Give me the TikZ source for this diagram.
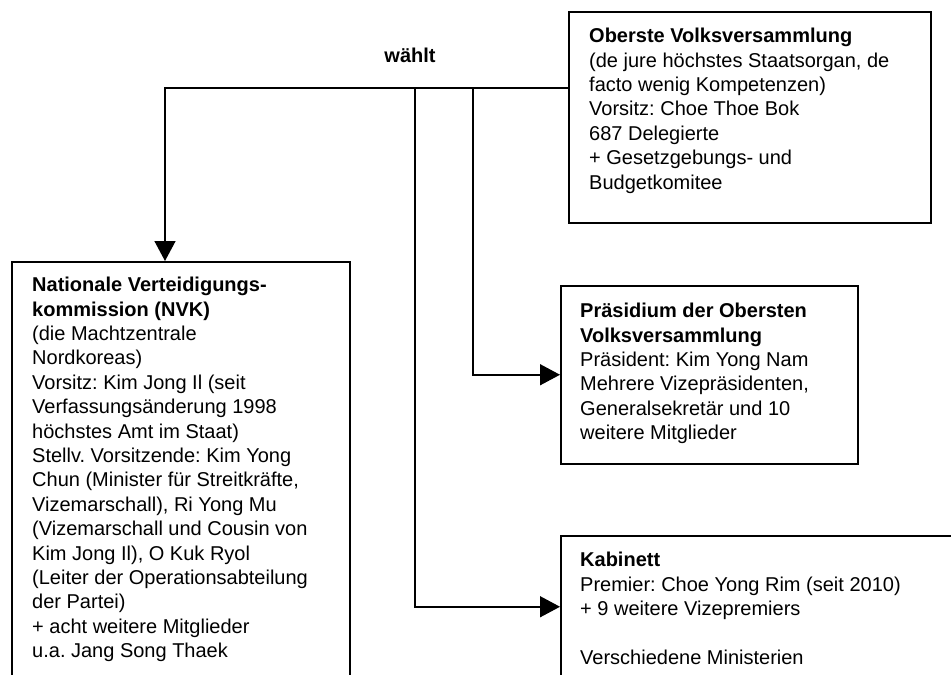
\documentclass[tikz,border=0pt]{standalone}
\usepackage{fontspec}
\setmainfont{Liberation Sans}
\usetikzlibrary{arrows.meta}
\frenchspacing
\tikzset{
  box/.style={draw=black, line width=1.5pt, inner sep=0pt, anchor=north west, fill=none},
  txt/.style={inner sep=0pt, anchor=north west, align=left, font=\fontsize{20}{24.4}\selectfont},
  conn/.style={draw=black, line width=1.5pt},
  arr/.style={conn, -{Triangle[length=20pt,width=21pt]}},
  lbl/.style={inner sep=0pt, anchor=base, font=\fontsize{20}{24.4}\selectfont\bfseries}
}
\begin{document}
\begin{tikzpicture}[x=1pt,y=-1pt]
\useasboundingbox (0,0) rectangle (951,675);
\clip (0,0) rectangle (951,675);
\fill[white] (0,0) rectangle (951,675);

% boxes
\node[box, minimum width=362pt, minimum height=211pt] (ovv) at (568,11) {};
\node[box, minimum width=338pt, minimum height=430pt] (nvk) at (11,261) {};
\node[box, minimum width=297pt, minimum height=178pt] (praes) at (560,285) {};
\node[box, minimum width=420pt, minimum height=142pt] (kab) at (560,535) {};

% texts
\node[txt] (tovv) at (589,28) {\textbf{Oberste Volksversammlung}\\
(de jure höchstes Staatsorgan, de\\
facto wenig Kompetenzen)\\
Vorsitz: Choe Thoe Bok\\
687 Delegierte\\
+ Gesetzgebungs- und\\
Budgetkomitee};

\node[txt] (tnvk) at (32,277) {\textbf{Nationale Verteidigungs-}\\
\textbf{kommission (NVK)}\\
(die Machtzentrale\\
Nordkoreas)\\
Vorsitz: Kim Jong Il (seit\\
Verfassungsänderung 1998\\
höchstes Amt im Staat)\\
Stellv. Vorsitzende: Kim Yong\\
Chun (Minister für Streitkräfte,\\
Vizemarschall), Ri Yong Mu\\
(Vizemarschall und Cousin von\\
Kim Jong Il), O Kuk Ryol\\
(Leiter der Operationsabteilung\\
der Partei)\\
+ acht weitere Mitglieder\\
u.a. Jang Song Thaek};

\node[txt] (tpraes) at (580,303) {\textbf{Präsidium der Obersten}\\
\textbf{Volksversammlung}\\
Präsident: Kim Yong Nam\\
Mehrere Vizepräsidenten,\\
Generalsekretär und 10\\
weitere Mitglieder};

\node[txt] (tkab) at (580,552) {\textbf{Kabinett}\\
Premier: Choe Yong Rim (seit 2010)\\
+ 9 weitere Vizepremiers\\[24.4pt]
Verschiedene Ministerien};

\node[lbl] (waehlt) at (410,62) {wählt};

% connectors
\coordinate (wj) at (568,88);
\coordinate (d1) at (165,88);
\coordinate (d2) at (415,88);
\coordinate (d3) at (473,88);
\draw[arr] (wj) -- (d1) -- (d1 |- nvk.north);
\draw[arr] (d3) |- (praes.west);
\draw[arr] (d2) |- (kab.west);
\end{tikzpicture}
\end{document}
